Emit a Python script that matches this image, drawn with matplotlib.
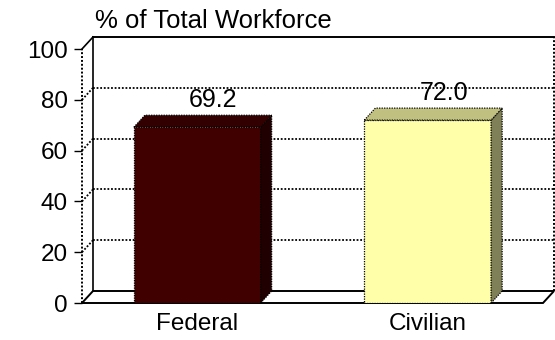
import matplotlib
matplotlib.use('Agg')
import matplotlib.pyplot as plt
from matplotlib.patches import Polygon

plt.rcParams['font.family'] = ['Liberation Sans', 'DejaVu Sans']

categories = ['Federal', 'Civilian']
values = [69.2, 72.0]
yticks = [0, 20, 40, 60, 80, 100]
ylabel = '% of Total Workforce'

front_col = ['#400000', '#FFFFAA']
top_col = ['#320000', '#C0C080']
side_col = ['#200000', '#808058']

FS = 17.5
W, H = 555, 340
fig = plt.figure(figsize=(W / 100, H / 100), dpi=100)
ax = fig.add_axes([82 / W, (H - 303) / H, (543 - 82) / W, (303 - 49) / H])
ax.set_xlim(-0.5, 1.5)
ax.set_ylim(0, 100)
for s in ax.spines.values():
    s.set_visible(False)

# depth of the 3d box in data units
ddx = 11 / (543 - 82) * 2.0
ddy = 12 / (303 - 49) * 100.0
x0, x1 = -0.5, 1.5
dot = (0, (1, 1))

# floor
ax.add_patch(Polygon([(x0, 0), (x1, 0), (x1 + ddx, ddy), (x0 + ddx, ddy)],
                     closed=True, facecolor='white', edgecolor='black',
                     lw=1.4, clip_on=False, zorder=1))
# back wall and left wall
ax.plot([x0 + ddx, x1 + ddx], [100 + ddy, 100 + ddy], color='black', lw=1.4, clip_on=False, zorder=1)
ax.plot([x0, x0 + ddx], [100, 100 + ddy], color='black', lw=1.2, clip_on=False, zorder=1)
ax.plot([x0 + ddx, x0 + ddx], [ddy, 100 + ddy], color='black', lw=1.2, clip_on=False, zorder=1)
ax.plot([x1 + ddx, x1 + ddx], [ddy, 100 + ddy], color='black', lw=1.4, ls=dot, clip_on=False, zorder=1)
ax.plot([x0, x0], [0, 100], color='black', lw=1.4, ls=dot, clip_on=False, zorder=1)
for v in yticks[1:-1]:
    ax.plot([x0 + ddx, x1 + ddx], [v + ddy, v + ddy], color='black', lw=1.3, ls=dot,
            clip_on=False, zorder=1)
    ax.plot([x0, x0 + ddx], [v, v + ddy], color='black', lw=1.3, ls=dot,
            clip_on=False, zorder=1)

# bars
xs = list(range(len(categories)))
bw = 0.55
ax.bar(xs, values, width=bw, color=front_col, edgecolor='black', linestyle=dot,
       linewidth=0.9, zorder=3)
for i, v in enumerate(values):
    l, r = xs[i] - bw / 2, xs[i] + bw / 2
    ax.add_patch(Polygon([(r, 0), (r + ddx, ddy), (r + ddx, v + ddy), (r, v)],
                         closed=True, facecolor=side_col[i], edgecolor='black',
                         ls=dot, lw=0.9, clip_on=False, zorder=3))
    ax.add_patch(Polygon([(l, v), (l + ddx, v + ddy), (r + ddx, v + ddy), (r, v)],
                         closed=True, facecolor=top_col[i], edgecolor='black',
                         ls=dot, lw=0.9, clip_on=False, zorder=3))
    ax.annotate('%.1f' % v, (xs[i], v), xytext=(11.5, 14.4), textcoords='offset points',
                ha='center', va='baseline', fontsize=18, zorder=5)

ax.set_yticks(yticks)
ax.set_yticklabels([str(t) for t in yticks])
ax.set_xticks(xs)
ax.set_xticklabels(categories)
ax.tick_params(axis='y', length=6, width=1, pad=4, labelsize=FS)
ax.tick_params(axis='x', length=0, pad=7.5, labelsize=FS)

fig.text(95 / W, 1 - 28 / H, ylabel, ha='left', va='baseline', fontsize=18.5)

fig.savefig('out.png', dpi=100)
